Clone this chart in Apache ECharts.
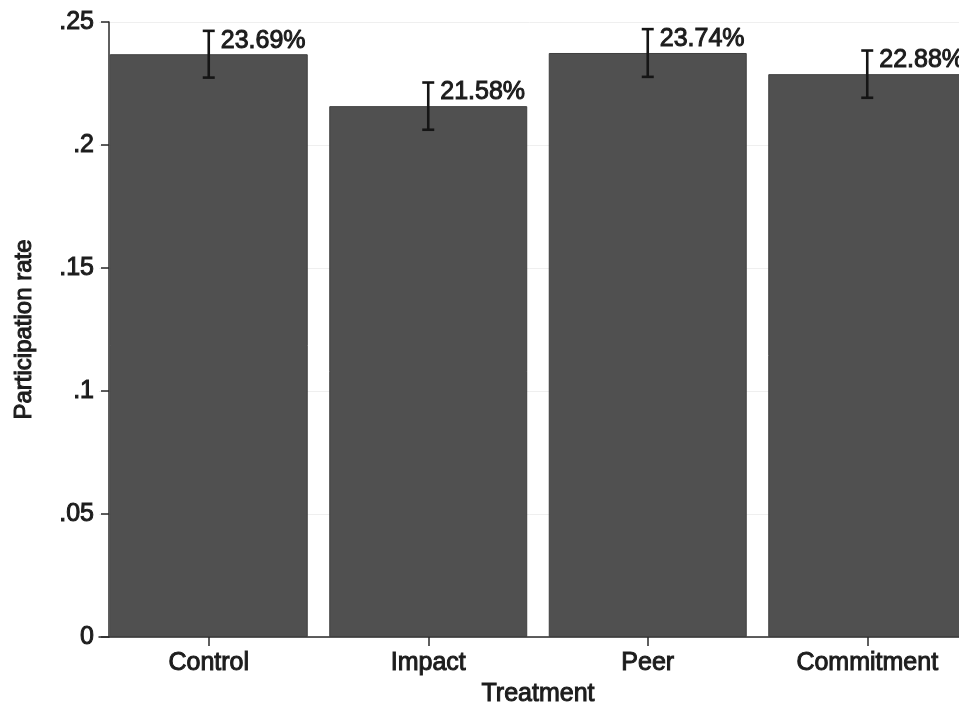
<!DOCTYPE html>
<html>
<head>
<meta charset="utf-8">
<script src="https://cdn.jsdelivr.net/npm/echarts@6/dist/echarts.min.js"></script>
<style>
  html, body { margin: 0; padding: 0; background: #ffffff; }
  #chart { width: 959px; height: 703px; }
</style>
</head>
<body>
<div id="chart"></div>
<script>
// Participation rate by treatment arm, with 95% confidence intervals
const categories = ['Control', 'Impact', 'Peer', 'Commitment'];
const rates = [0.2369, 0.2158, 0.2374, 0.2288];
const ciLow = [0.2274, 0.2062, 0.2277, 0.2192];
const ciHigh = [0.2464, 0.2254, 0.2471, 0.2384];
const yTicks = [0, 0.05, 0.1, 0.15, 0.2, 0.25];

const FONT = "'Liberation Sans', Arial, Helvetica, sans-serif";
const INK = '#1c1c1c';
const TEXT_EDGE = { textBorderColor: INK, textBorderWidth: 1 };

// Stata-style tick labels: drop the leading zero (".25", ".2", ...)
function tickLabel(v) {
  if (v === 0) return '0';
  return String(+v.toFixed(2)).replace(/^0\./, '.');
}

const errorData = categories.map((c, i) => [i, ciLow[i], ciHigh[i], rates[i]]);

const chart = echarts.init(document.getElementById('chart'), null, { renderer: 'canvas' });

chart.setOption({
  backgroundColor: '#ffffff',
  animation: false,
  textStyle: { fontFamily: FONT, color: INK },
  grid: { left: 99, top: 22, width: 878, height: 615, containLabel: false, outerBoundsMode: 'none' },
  xAxis: {
    type: 'category',
    data: categories,
    name: 'Treatment',
    nameLocation: 'middle',
    nameGap: 41,
    nameTextStyle: Object.assign({ fontSize: 25, color: INK, fontFamily: FONT }, TEXT_EDGE),
    axisLine: { show: true, lineStyle: { color: '#2a2a2a', width: 1.5 } },
    axisTick: { show: true, alignWithLabel: true, length: 9, lineStyle: { color: '#2a2a2a', width: 1.5 } },
    axisLabel: Object.assign({ fontSize: 25, color: INK, margin: 14, fontFamily: FONT }, TEXT_EDGE),
    splitLine: { show: false }
  },
  yAxis: {
    type: 'value',
    min: yTicks[0],
    max: yTicks[yTicks.length - 1],
    interval: yTicks[1] - yTicks[0],
    offset: -10,
    name: 'Participation rate',
    nameLocation: 'middle',
    nameGap: 73,
    nameTextStyle: Object.assign({ fontSize: 24, color: INK, fontFamily: FONT }, TEXT_EDGE),
    axisLine: { show: true, lineStyle: { color: '#2a2a2a', width: 1.5 } },
    axisTick: { show: true, length: 8, lineStyle: { color: '#2a2a2a', width: 1.5 } },
    axisLabel: Object.assign({ fontSize: 25, color: INK, margin: 15, fontFamily: FONT, formatter: tickLabel }, TEXT_EDGE),
    splitLine: { show: true, lineStyle: { color: '#efefef', width: 1 } }
  },
  series: [
    {
      type: 'bar',
      data: rates,
      barCategoryGap: '9.8%',
      itemStyle: { color: '#505050', borderColor: '#3f3f3f', borderWidth: 1 },
      z: 2
    },
    {
      type: 'custom',
      data: errorData,
      encode: { x: 0, y: [1, 2] },
      z: 5,
      renderItem: function (params, api) {
        const idx = api.value(0);
        const lo = api.coord([idx, api.value(1)]);
        const hi = api.coord([idx, api.value(2)]);
        const cap = 6;
        const style = { stroke: '#151515', lineWidth: 2.6 };
        const label = (api.value(3) * 100).toFixed(2) + '%';
        return {
          type: 'group',
          children: [
            { type: 'line', shape: { x1: hi[0], y1: hi[1], x2: lo[0], y2: lo[1] }, style: style },
            { type: 'line', shape: { x1: hi[0] - cap, y1: hi[1], x2: hi[0] + cap, y2: hi[1] }, style: style },
            { type: 'line', shape: { x1: lo[0] - cap, y1: lo[1], x2: lo[0] + cap, y2: lo[1] }, style: style },
            {
              type: 'text',
              x: hi[0] + 12,
              y: hi[1] + 10,
              style: {
                text: label,
                fill: INK,
                stroke: INK,
                lineWidth: 1,
                font: '25px ' + FONT,
                align: 'left',
                verticalAlign: 'middle'
              }
            }
          ]
        };
      }
    }
  ]
});
</script>
</body>
</html>
